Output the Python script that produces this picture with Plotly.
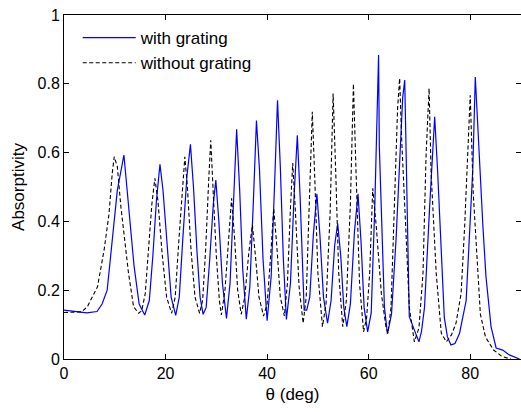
import plotly.graph_objects as go

# with grating (blue solid)
theta_with = [0, 1.5, 3, 4.5, 6.5, 7.5, 8.5, 9.5, 10.5, 11.8, 12.8, 13.8, 14.8, 15.9,
              16.8, 17.5, 18.2, 18.9, 19.5, 20.3, 21.1, 22.0, 22.7, 23.4, 24.2, 24.9,
              25.5, 26.2, 26.8, 27.4, 28.0, 28.7, 29.4, 29.9, 30.5, 31.2, 32.0, 32.7,
              33.4, 34.0, 34.6, 35.2, 35.9, 36.6, 37.3, 37.9, 38.5, 39.2, 40.0, 40.8,
              41.5, 42.05, 42.6, 43.2, 43.8, 44.6, 45.3, 45.95, 46.5, 47.0, 47.3, 47.8,
              48.4, 49.1, 49.8, 50.4, 51.1, 51.9, 52.6, 53.3, 53.9, 54.5, 55.1, 55.7,
              56.4, 57.2, 57.9, 58.5, 59.1, 59.8, 60.5, 61.2, 61.8, 61.95, 62.1, 62.5,
              63.1, 63.7, 64.5, 65.4, 66.4, 66.7, 67.1, 67.4, 67.7, 68.0, 69.0, 69.9,
              70.4, 71.0, 72.0, 73.0, 73.6, 74.3, 74.9, 75.5, 76.2, 77.0, 77.9, 79.2,
              80.2, 80.5, 81.0, 81.8, 82.5, 83.1, 84.1, 85.1, 86.4, 87.7, 89.7]
abs_with = [0.142, 0.140, 0.136, 0.134, 0.138, 0.16, 0.20, 0.346, 0.49, 0.593, 0.44, 0.27, 0.16, 0.128,
            0.17, 0.30, 0.46, 0.566, 0.49, 0.32, 0.18, 0.127, 0.18, 0.35, 0.53, 0.624,
            0.50, 0.31, 0.18, 0.13, 0.15, 0.29, 0.45, 0.52, 0.40, 0.22, 0.118, 0.22,
            0.45, 0.668, 0.49, 0.26, 0.116, 0.21, 0.46, 0.693, 0.55, 0.29, 0.111, 0.24,
            0.52, 0.752, 0.56, 0.29, 0.115, 0.22, 0.47, 0.65, 0.47, 0.22, 0.142, 0.142,
            0.18, 0.36, 0.48, 0.36, 0.18, 0.104, 0.17, 0.33, 0.394, 0.30, 0.15, 0.094,
            0.16, 0.37, 0.48, 0.34, 0.15, 0.079, 0.134, 0.44, 0.79, 0.884, 0.617, 0.42,
            0.152, 0.073, 0.13, 0.35, 0.685, 0.76, 0.811, 0.59, 0.346, 0.123, 0.084, 0.05,
            0.08, 0.15, 0.44, 0.704, 0.54, 0.30, 0.12, 0.065, 0.041, 0.045, 0.075, 0.17,
            0.433, 0.55, 0.82, 0.578, 0.385, 0.24, 0.094, 0.032, 0.026, 0.012, 0.0]

# without grating (black dashed)
theta_without = [0, 2, 3.5, 4.6, 5.6, 6.6, 7.9, 8.85, 9.5, 9.9, 10.5, 11.2, 12.7, 13.7, 14.7,
                 15.3, 16.0, 16.7, 17.3, 17.9, 18.5, 19.3, 20.2, 21.2, 21.9, 22.6, 23.3,
                 23.8, 24.3, 25.0, 25.8, 26.7, 27.3, 27.9, 28.5, 28.9, 29.4, 30.0, 30.6,
                 31.0, 31.7, 32.4, 33.0, 33.6, 34.2, 34.9, 35.6, 36.4, 37.1, 37.7, 38.4,
                 39.3, 40.0, 40.7, 41.3, 41.9, 42.6, 43.4, 44.0, 44.6, 45.05, 45.6, 46.3,
                 47.1, 47.7, 48.3, 48.9, 49.4, 50.0, 50.9, 51.6, 52.4, 53.0, 53.5, 54.1,
                 54.9, 55.6, 56.4, 57.0, 57.5, 58.2, 59.0, 59.6, 60.2, 60.8, 61.5, 62.5,
                 63.4, 63.8, 64.4, 65.1, 65.7, 66.1, 66.5, 67.4, 68.0, 69.0, 69.9, 70.7,
                 71.3, 71.9, 72.3, 73.3, 74.3, 75.3, 76.3, 77.2, 78.2, 78.9, 79.3, 79.6,
                 80.0, 80.6, 81.3, 82.0, 83.0, 84.6, 86.3, 88.0]
abs_without = [0.135, 0.135, 0.137, 0.152, 0.18, 0.21, 0.317, 0.42, 0.54, 0.588, 0.559, 0.443, 0.25, 0.152, 0.133,
               0.14, 0.19, 0.32, 0.45, 0.525, 0.46, 0.31, 0.18, 0.133, 0.18, 0.34, 0.50,
               0.588, 0.50, 0.32, 0.18, 0.133, 0.17, 0.32, 0.52, 0.636, 0.48, 0.30, 0.17,
               0.128, 0.20, 0.36, 0.467, 0.35, 0.20, 0.13, 0.18, 0.31, 0.39, 0.30, 0.18,
               0.125, 0.16, 0.30, 0.438, 0.33, 0.18, 0.125, 0.22, 0.44, 0.57, 0.42, 0.21,
               0.104, 0.18, 0.45, 0.719, 0.52, 0.25, 0.094, 0.16, 0.42, 0.772, 0.55, 0.25,
               0.094, 0.17, 0.45, 0.80, 0.55, 0.22, 0.079, 0.12, 0.25, 0.496, 0.385, 0.19,
               0.094, 0.075, 0.15, 0.44, 0.73, 0.816, 0.64, 0.35, 0.15, 0.05, 0.09, 0.25,
               0.59, 0.787, 0.54, 0.25, 0.075, 0.05, 0.07, 0.104, 0.19, 0.385, 0.53, 0.675,
               0.767, 0.48, 0.29, 0.13, 0.064, 0.026, 0.007, 0.0]

x_ticks = [0, 20, 40, 60, 80]
y_ticks = [0, 0.2, 0.4, 0.6, 0.8, 1]
y_ticklabels = ["0", "0.2", "0.4", "0.6", "0.8", "1"]

FONT = "Arial, Liberation Sans, sans-serif"

fig = go.Figure()
fig.add_trace(go.Scatter(x=theta_with, y=abs_with, mode="lines", name="with grating",
                         line=dict(color="#0000ff", width=1.2)))
fig.add_trace(go.Scatter(x=theta_without, y=abs_without, mode="lines", name="without grating",
                         line=dict(color="#000000", width=1.1, dash="4px,2.5px")))

axis_common = dict(showgrid=False, zeroline=False, showline=True, linecolor="#000000",
                   linewidth=1, mirror="ticks", ticks="inside", ticklen=5,
                   tickcolor="#000000", tickfont=dict(family=FONT, size=16, color="#000000"))

fig.update_layout(
    width=521, height=412,
    margin=dict(l=64, r=0, t=15, b=53),
    paper_bgcolor="white", plot_bgcolor="white",
    font=dict(family=FONT, size=16, color="#000000"),
    xaxis=dict(range=[0, 90], tickvals=x_ticks, ticktext=[str(v) for v in x_ticks],
               title=dict(text="θ (deg)", font=dict(family=FONT, size=17), standoff=6),
               **axis_common),
    yaxis=dict(range=[0, 1], tickvals=y_ticks, ticktext=y_ticklabels,
               title=dict(text="Absorptivity", font=dict(family=FONT, size=17), standoff=8),
               **axis_common),
    legend=dict(x=0.03, y=0.985, xanchor="left", yanchor="top", bgcolor="rgba(255,255,255,0)",
                borderwidth=0, font=dict(family=FONT, size=17), itemwidth=53,
                tracegroupgap=0),
    showlegend=True,
)

fig.write_html("out.html")
